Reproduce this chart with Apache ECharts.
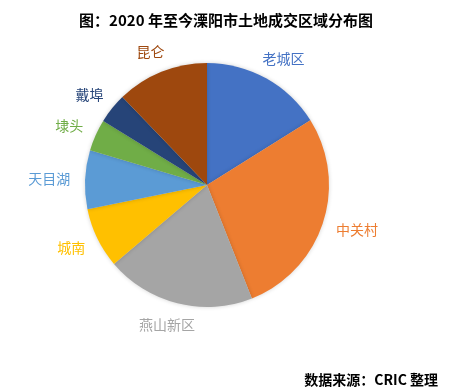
<!DOCTYPE html>
<html>
<head>
<meta charset="utf-8">
<script src="https://cdn.jsdelivr.net/npm/echarts@6/dist/echarts.min.js"></script>
<style>
html,body{margin:0;padding:0;background:#fff;}
#chart{width:452px;height:392px;}
</style>
</head>
<body>
<div id="chart"></div>
<script>
var titleText = '图：2020 年至今溧阳市土地成交区域分布图';
var sourceText = '数据来源：CRIC 整理';
var categories = ['老城区', '中关村', '燕山新区', '城南', '天目湖', '埭头', '戴埠', '昆仑'];
var shares = [16.1, 27.9, 19.8, 8.0, 7.8, 4.2, 4.0, 12.2];
var colors = ['#4472C4', '#ED7D31', '#A5A5A5', '#FFC000', '#5B9BD5', '#70AD47', '#264478', '#9E480E'];

var CX = 207, CY = 185, R = 122, GAP = 15;
var total = shares.reduce(function (a, b) { return a + b; }, 0);
var midAngles = [];
var acc = 0;
shares.forEach(function (v) {
  midAngles.push((acc + v / 2) / total * Math.PI * 2);
  acc += v;
});

var chart = echarts.init(document.getElementById('chart'), null, {renderer: 'canvas'});
chart.setOption({
  animation: false,
  color: colors,
  title: [{
    text: titleText,
    left: 'center',
    top: 8,
    textStyle: {fontFamily: '"Noto Sans CJK SC"', fontSize: 15, fontWeight: 'bold', color: '#000'}
  }, {
    text: sourceText,
    right: 9,
    top: 368,
    textStyle: {fontFamily: '"Noto Sans CJK SC"', fontSize: 14, fontWeight: 'bold', color: '#000'}
  }],
  series: [{
    type: 'pie',
    center: [CX, CY],
    radius: [0, R],
    startAngle: 90,
    clockwise: true,
    itemStyle: {borderWidth: 0, shadowBlur: 4, shadowColor: 'rgba(0,0,0,0.18)'},
    label: {
      show: true,
      position: 'outside',
      alignTo: 'none',
      overflow: 'none',
      fontFamily: '"Noto Sans CJK SC"',
      fontSize: 14,
      formatter: '{b}'
    },
    labelLine: {show: false},
    labelLayout: function (p) {
      var t = midAngles[p.dataIndex];
      var s = Math.sin(t), c = Math.cos(t);
      var w = p.labelRect.width, h = p.labelRect.height;
      return {
        x: CX + (R + GAP) * s + w / 2 * s,
        y: CY - (R + GAP) * c - h / 2 * c,
        align: 'center',
        verticalAlign: 'middle'
      };
    },
    emphasis: {disabled: true},
    data: categories.map(function (n, i) {
      return {name: n, value: shares[i], label: {color: colors[i]}};
    })
  }]
});
</script>
</body>
</html>
